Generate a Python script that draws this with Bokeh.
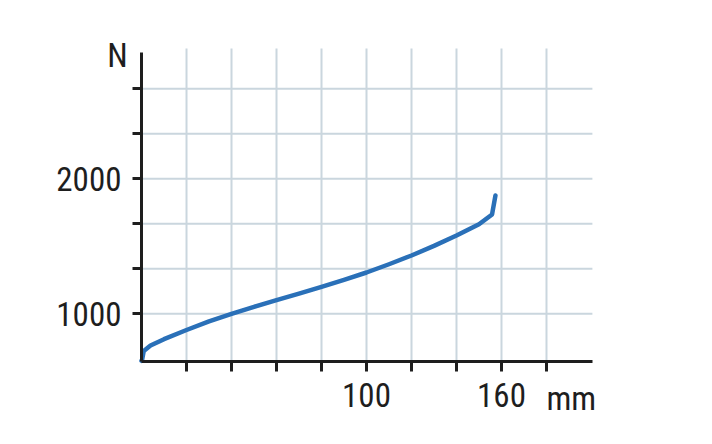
from bokeh.plotting import figure
from bokeh.models import Range1d, FixedTicker, Label
from bokeh.embed import file_html
from bokeh.resources import INLINE

# travel (mm) and force (N)
travel = [0, 0.3, 1, 4, 10, 20, 30, 40, 50, 60, 70, 80, 90, 100, 110, 120, 130, 140, 150, 155.8, 157.3]
force = [652, 662, 725, 765, 812, 880, 944, 1000, 1052, 1101, 1150, 1200, 1252, 1306, 1367, 1432, 1503, 1580, 1663, 1736, 1876]

x_ticks = [20, 40, 60, 80, 100, 120, 140, 160, 180]
x_labels = {100: "100", 160: "160"}
y_ticks = [1000, 4000 / 3, 5000 / 3, 2000, 7000 / 3, 8000 / 3]
y_labels = {1000: "1000", 2000: "2000"}

# extent of the plotting box
x_min, x_max = 0, 200.4
y_min, y_max = 647, 2965

font = "Roboto Condensed"
ink = "#1e1e1e"

# the frame fills the whole page so that the unit labels are not clipped;
# the axes are pinned at the box's corner instead
p = figure(width=712, height=444, output_backend="svg", toolbar_location=None,
           x_range=Range1d(-62.67, 253.78), y_range=Range1d(31.9, 3320.7),
           min_border=0)
p.outline_line_color = None
p.background_fill_color = "white"
p.border_fill_color = "white"
p.grid.visible = False

# grid lines, only inside the box
p.segment(x0=x_ticks, y0=[y_min] * len(x_ticks), x1=x_ticks, y1=[y_max] * len(x_ticks),
          line_color="#cad6de", line_width=2)
p.segment(x0=[x_min] * len(y_ticks), y0=y_ticks, x1=[x_max] * len(y_ticks), y1=y_ticks,
          line_color="#cad6de", line_width=2)

p.line(travel, force, line_width=4.5, line_color="#2a70b8", line_cap="round", line_join="round")

p.xaxis.fixed_location = y_min
p.yaxis.fixed_location = x_min
p.xaxis.bounds = (x_min, x_max)
p.yaxis.bounds = (y_min, 2935)
p.xaxis.ticker = FixedTicker(ticks=x_ticks)
p.xaxis.major_label_overrides = {t: x_labels.get(t, "") for t in x_ticks}
p.yaxis.ticker = FixedTicker(ticks=y_ticks)
p.yaxis.major_label_overrides = {t: y_labels.get(t, "") for t in y_ticks}

for ax in [p.xaxis, p.yaxis]:
    ax.axis_line_width = 3
    ax.axis_line_color = ink
    ax.major_tick_line_width = 3
    ax.major_tick_line_color = ink
    ax.major_tick_in = 0
    ax.minor_tick_line_color = None
    ax.major_label_text_font = font
    ax.major_label_text_font_size = "33px"
    ax.major_label_text_color = ink
p.xaxis.major_tick_out = 10
p.yaxis.major_tick_out = 9
p.xaxis.major_label_standoff = 12
p.yaxis.major_label_standoff = 11

p.add_layout(Label(x=-10.7, y=2913, text="N", text_font=font, text_font_size="33px",
                   text_color=ink, text_align="center", text_baseline="middle"))
p.add_layout(Label(x=191, y=373, text="mm", text_font=font, text_font_size="33px",
                   text_color=ink, text_align="center", text_baseline="middle"))

open("out.html", "w").write(file_html(p, INLINE))
